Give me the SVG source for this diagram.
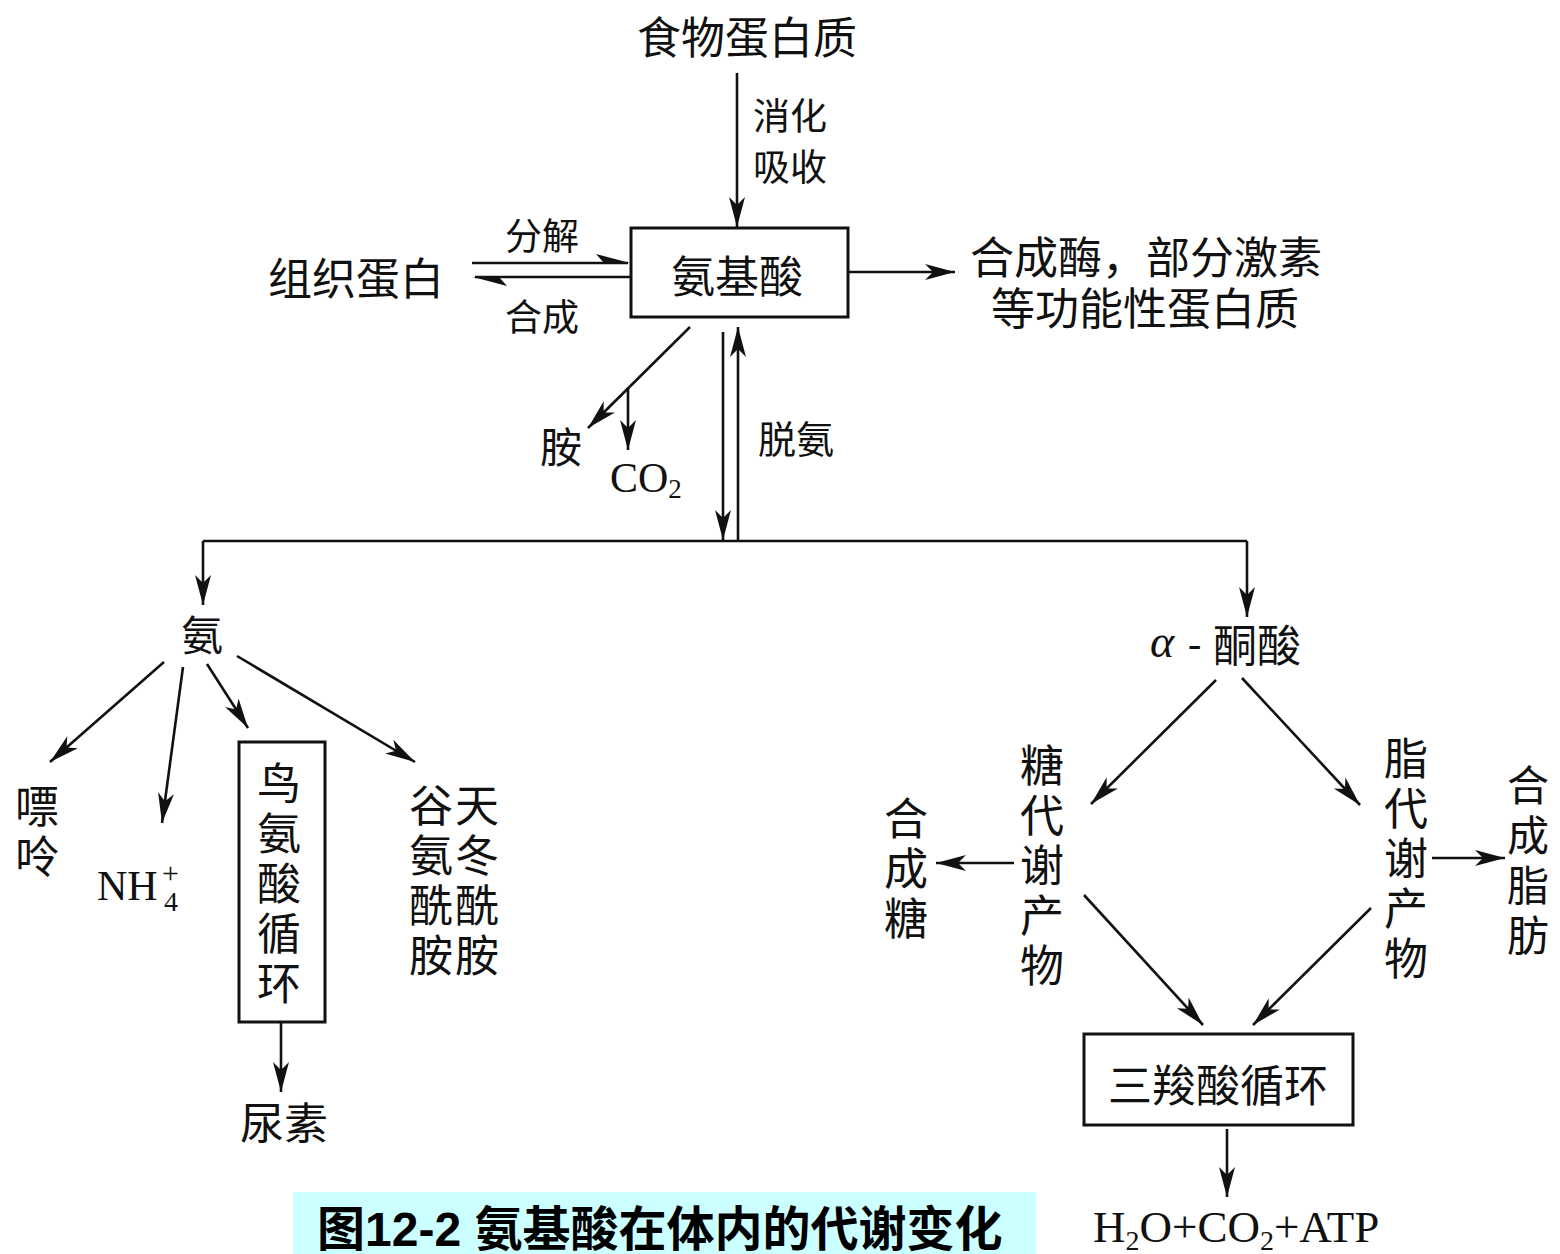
<svg xmlns="http://www.w3.org/2000/svg" width="1560" height="1254" viewBox="0 0 1560 1254">
<style>
.cjk{font-family:"Noto Sans CJK SC","Noto Sans CJK JP",sans-serif;font-size:44px;fill:#111;text-anchor:middle;dominant-baseline:central}
.vt{writing-mode:vertical-rl;letter-spacing:6px}
.s37{font-size:37px}
.ser{font-family:"Liberation Serif","Times New Roman",serif;fill:#111}
.ln{stroke:#111;stroke-width:2.6;fill:none}
.ar{marker-end:url(#ah)}
.box{fill:#fff;stroke:#111;stroke-width:3}
</style>
<defs>
<marker id="ah" markerUnits="userSpaceOnUse" markerWidth="40" markerHeight="24" refX="30" refY="12" orient="auto">
<path d="M0,4 L30,12 L0,20 L8,12 Z" fill="#111"/>
</marker>
</defs>
<rect width="1560" height="1254" fill="#fff"/>

<g id="connectors">
<line class="ln ar" x1="737" y1="73" x2="737" y2="227"/>
<line class="ln" x1="472" y1="263" x2="628" y2="263"/>
<path d="M630,263 L596,254 L604,263 Z" fill="#111"/>
<line class="ln" x1="631" y1="277" x2="475" y2="277"/>
<path d="M473,277 L507,286 L499,277 Z" fill="#111"/>
<line class="ln ar" x1="848" y1="272" x2="955" y2="272"/>
<line class="ln ar" x1="690" y1="327" x2="588" y2="428"/>
<line class="ln ar" x1="628" y1="388" x2="628" y2="450"/>
<line class="ln ar" x1="723" y1="332" x2="723" y2="540"/>
<line class="ln ar" x1="738" y1="541" x2="738" y2="327"/>
<polyline class="ln" points="203,541 1247,541"/>
<line class="ln ar" x1="203" y1="541" x2="203" y2="605"/>
<line class="ln ar" x1="1247" y1="541" x2="1247" y2="617"/>
<line class="ln ar" x1="164" y1="662" x2="50" y2="762"/>
<line class="ln ar" x1="183" y1="667" x2="162" y2="823"/>
<line class="ln ar" x1="207" y1="664" x2="248" y2="728"/>
<line class="ln ar" x1="237" y1="656" x2="415" y2="762"/>
<line class="ln ar" x1="281" y1="1022" x2="281" y2="1092"/>
<line class="ln ar" x1="1216" y1="680" x2="1091" y2="804"/>
<line class="ln ar" x1="1242" y1="678" x2="1360" y2="805"/>
<line class="ln ar" x1="1014" y1="863" x2="936" y2="863"/>
<line class="ln ar" x1="1432" y1="858" x2="1505" y2="858"/>
<line class="ln ar" x1="1084" y1="895" x2="1203" y2="1025"/>
<line class="ln ar" x1="1371" y1="908" x2="1253" y2="1025"/>
<line class="ln ar" x1="1227" y1="1129" x2="1227" y2="1197"/>
</g>

<g id="food-protein"><text class="cjk" x="747" y="35">食物蛋白质</text></g>
<g id="label-digest"><text class="cjk s37" x="790" y="114">消化<tspan x="790" dy="51">吸收</tspan></text></g>
<g id="tissue-protein"><text class="cjk" x="356" y="276">组织蛋白</text></g>
<g id="label-decompose"><text class="cjk s37" x="542" y="234">分解</text></g>
<g id="label-synth"><text class="cjk s37" x="542" y="315">合成</text></g>
<g id="amino-acid"><rect class="box" x="631" y="228" width="217" height="89"/><text class="cjk" x="737" y="274">氨基酸</text></g>
<g id="functional-protein"><text class="cjk" x="1146" y="255">合成酶，部分激素<tspan x="1145" dy="51">等功能性蛋白质</tspan></text></g>
<g id="amine"><text class="cjk" x="561" y="444" style="font-size:42px">胺</text></g>
<g id="co2"><text class="ser" x="610" y="492" font-size="42">CO<tspan font-size="27" dy="6">2</tspan></text></g>
<g id="label-deamination"><text class="cjk" x="796" y="436" style="font-size:38px">脱氨</text></g>
<g id="ammonia"><text class="cjk" x="202" y="632" style="font-size:42px">氨</text></g>
<g id="purine"><text class="cjk vt" x="37" y="834">嘌呤</text></g>
<g id="nh4"><text class="ser" x="97" y="900" font-size="42">NH</text><text class="ser" x="162" y="883" font-size="30">+</text><text class="ser" x="164" y="911" font-size="28">4</text></g>
<g id="ornithine-cycle"><rect class="box" x="239" y="742" width="86" height="280"/>
<text class="cjk vt" x="279" y="886">鸟氨酸循环</text></g>
<g id="urea"><text class="cjk" x="284" y="1121">尿素</text></g>
<g id="glutamine"><text class="cjk vt" x="431" y="883">谷氨酰胺</text></g>
<g id="asparagine"><text class="cjk vt" x="477" y="883">天冬酰胺</text></g>
<g id="keto-acid"><text class="ser" x="1150" y="657" font-size="46" font-style="italic">α</text><text class="ser" x="1188" y="657" font-size="40">-</text><text class="cjk" x="1257" y="643">酮酸</text></g>
<g id="sugar-metabolite"><text class="cjk vt" x="1042" y="868">糖代谢产物</text></g>
<g id="synth-sugar"><text class="cjk vt" x="906" y="871">合成糖</text></g>
<g id="fat-metabolite"><text class="cjk vt" x="1406" y="861">脂代谢产物</text></g>
<g id="synth-fat"><text class="cjk vt" x="1528" y="864" style="font-size:42px;letter-spacing:8px">合成脂肪</text></g>
<g id="tca-cycle"><rect class="box" x="1084" y="1034" width="269" height="91"/><text class="cjk" x="1218" y="1083">三羧酸循环</text></g>
<g id="products"><text class="ser" font-size="45" x="1093" y="1242">H<tspan font-size="28" dy="8">2</tspan><tspan dy="-8">O+CO</tspan><tspan font-size="28" dy="8">2</tspan><tspan dy="-8">+ATP</tspan></text></g>
<g id="caption"><rect x="293" y="1192" width="743" height="62" fill="#ccffff"/><text x="317" y="1246" font-family="Liberation Sans, Noto Sans CJK SC, sans-serif" font-weight="bold" font-size="48" fill="#000">图12-2 氨基酸在体内的代谢变化</text></g>
</svg>
